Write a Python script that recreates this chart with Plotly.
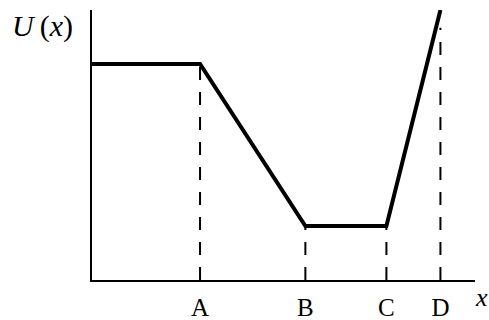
import plotly.graph_objects as go

# Data (arbitrary units)
point_labels = ["A", "B", "C", "D"]
point_x = [2.0, 3.95, 5.45, 6.45]
curve_x = [0.0, 2.0, 3.95, 5.45, 6.45]
curve_u = [4.0, 4.0, 1.0, 1.0, 5.0]
dash_top = [4.0, 1.0, 1.0, 4.67]

FONT = "Liberation Serif"

fig = go.Figure()

for xv, top in zip(point_x, dash_top):
    fig.add_trace(go.Scatter(
        x=[xv, xv], y=[0, top], mode="lines",
        line=dict(color="black", width=2, dash="13px,12px"),
        hoverinfo="skip", showlegend=False))

fig.add_trace(go.Scatter(
    x=curve_x, y=curve_u, mode="lines",
    line=dict(color="black", width=4),
    hoverinfo="skip", showlegend=False))

fig.update_layout(
    width=489, height=320,
    margin=dict(l=92, r=14, t=10, b=40, autoexpand=False),
    paper_bgcolor="white", plot_bgcolor="white",
    xaxis=dict(range=[0, 7.09], showgrid=False, zeroline=False, automargin=False,
               showline=True, linecolor="black", linewidth=2,
               tickmode="array", tickvals=point_x, ticktext=point_labels,
               ticks="", ticklabelstandoff=4,
               tickfont=dict(family=FONT, size=25, color="black")),
    yaxis=dict(range=[0, 5], showgrid=False, zeroline=False, automargin=False,
               showline=True, linecolor="black", linewidth=2,
               showticklabels=False, ticks=""),
    annotations=[
        dict(text="<i>U</i>\u2009(<i>x</i>)", xref="paper", yref="paper",
             x=-0.128, y=0.94, xanchor="center", yanchor="middle",
             showarrow=False, font=dict(family=FONT, size=30, color="black")),
        dict(text="<i>x</i>", xref="paper", yref="paper",
             x=1.018, y=-0.065, xanchor="center", yanchor="middle",
             showarrow=False, font=dict(family=FONT, size=26, color="black")),
    ],
)

fig.write_html("out.html", config={"displayModeBar": False},
               post_script="document.body.style.margin='0';")
